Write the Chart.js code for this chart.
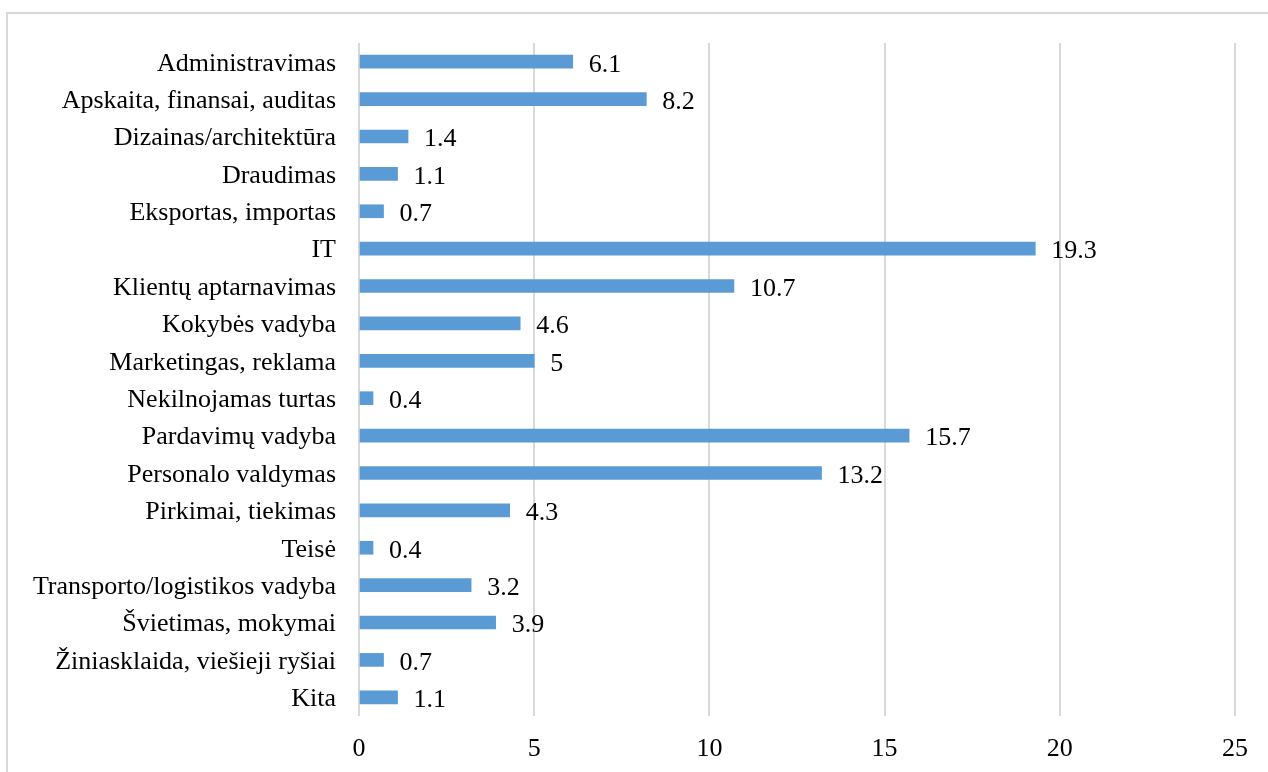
<!DOCTYPE html>
<html>
<head>
<meta charset="utf-8">
<script src="https://cdn.jsdelivr.net/npm/chart.js@4"></script>
<style>
  html, body { margin: 0; padding: 0; background: #fff; overflow: hidden; }
  #wrap { position: relative; width: 1268px; height: 772px; }
  #frame {
    position: absolute; left: 6px; top: 12px; width: 1300px; height: 800px;
    border: 2px solid #D9D9D9; box-sizing: border-box; pointer-events: none;
  }
  canvas { position: absolute; left: 0; top: 0; }
</style>
</head>
<body>
<div id="wrap">
  <div id="frame"></div>
  <canvas id="chart" width="1268" height="772"></canvas>
</div>
<script>
const categories = [
    'Administravimas',
    'Apskaita, finansai, auditas',
    'Dizainas/architektūra',
    'Draudimas',
    'Eksportas, importas',
    'IT',
    'Klientų aptarnavimas',
    'Kokybės vadyba',
    'Marketingas, reklama',
    'Nekilnojamas turtas',
    'Pardavimų vadyba',
    'Personalo valdymas',
    'Pirkimai, tiekimas',
    'Teisė',
    'Transporto/logistikos vadyba',
    'Švietimas, mokymai',
    'Žiniasklaida, viešieji ryšiai',
    'Kita'
];
const shares = [6.1, 8.2, 1.4, 1.1, 0.7, 19.3, 10.7, 4.6, 5, 0.4, 15.7, 13.2, 4.3, 0.4, 3.2, 3.9, 0.7, 1.1];
const xTicks = [0, 5, 10, 15, 20, 25];

const FONT = '"Liberation Serif", "Times New Roman", serif';

// draw the value next to each bar end
const valueLabels = {
    id: 'valueLabels',
    afterDatasetsDraw(chart) {
        const ctx = chart.ctx;
        const meta = chart.getDatasetMeta(0);
        ctx.save();
        ctx.font = '26px ' + FONT;
        ctx.fillStyle = '#000';
        ctx.textAlign = 'left';
        ctx.textBaseline = 'middle';
        meta.data.forEach((bar, i) => {
            ctx.fillText(String(shares[i]), bar.x + 16, bar.y + 3);
        });
        ctx.restore();
    }
};

new Chart(document.getElementById('chart'), {
    type: 'bar',
    data: {
        labels: categories,
        datasets: [{
            data: shares,
            backgroundColor: '#5B9BD5',
            barThickness: 13
        }]
    },
    options: {
        indexAxis: 'y',
        responsive: false,
        animation: false,
        layout: { padding: { top: 43, right: 33, bottom: 0, left: 0 } },
        plugins: {
            legend: { display: false },
            tooltip: { enabled: false }
        },
        scales: {
            x: {
                min: 0,
                max: 25,
                afterBuildTicks(scale) {
                    scale.ticks = xTicks.map(v => ({ value: v }));
                },
                afterFit(scale) { scale.height = 56; },
                grid: { color: '#D9D9D9', lineWidth: 2, drawTicks: false },
                border: { display: false },
                ticks: {
                    padding: 18,
                    color: '#000',
                    font: { family: FONT, size: 26 }
                }
            },
            y: {
                afterFit(scale) { scale.width = 359; },
                grid: { display: false },
                border: { display: false },
                ticks: {
                    padding: 15,
                    labelOffset: 2,
                    color: '#000',
                    autoSkip: false,
                    font: { family: FONT, size: 26 }
                }
            }
        }
    },
    plugins: [valueLabels]
});
</script>
</body>
</html>
